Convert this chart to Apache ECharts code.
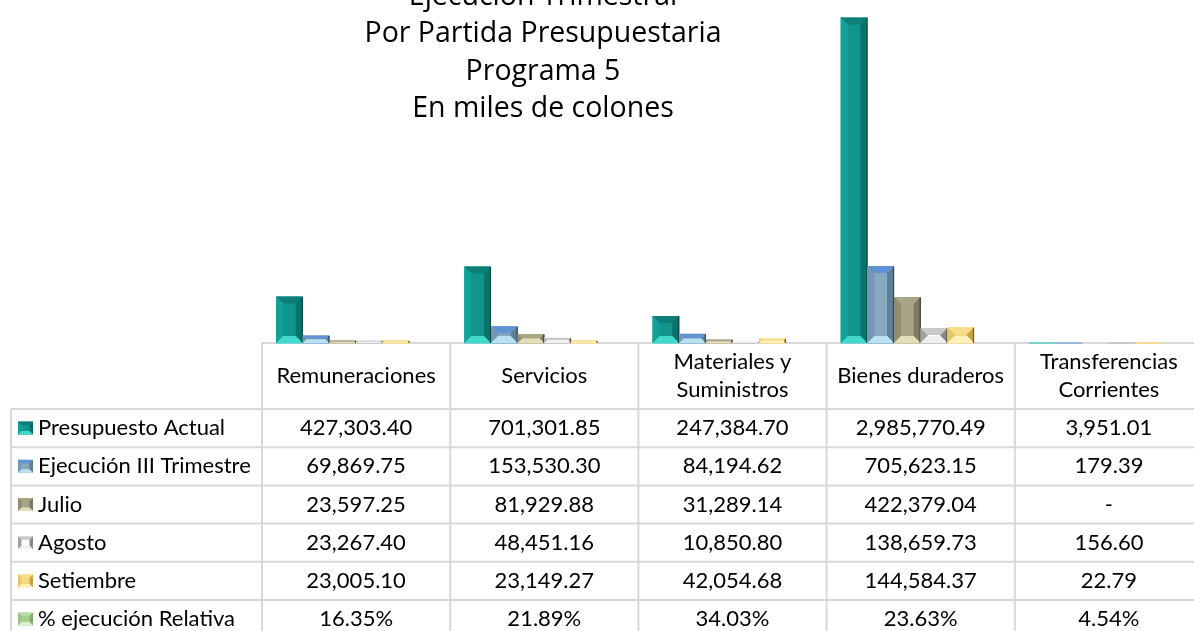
<!DOCTYPE html>
<html>
<head>
<meta charset="utf-8">
<script src="https://cdn.jsdelivr.net/npm/echarts@6/dist/echarts.min.js"></script>
<style>
html,body{margin:0;padding:0;background:#fff;overflow:hidden;}
#chart{width:1212px;height:631px;}
</style>
</head>
<body>
<div id="chart"></div>
<script>
// ---- data ----
const titleLines = ['Ejecución Trimestral', 'Por Partida Presupuestaria', 'Programa 5', 'En miles de colones'];
const categories = ['Remuneraciones', 'Servicios', 'Materiales y\nSuministros', 'Bienes duraderos', 'Transferencias\nCorrientes'];
const seriesNames = ['Presupuesto Actual', 'Ejecución III Trimestre', 'Julio', 'Agosto', 'Setiembre', '% ejecución Relativa'];
const presupuestoActual = [427303.40, 701301.85, 247384.70, 2985770.49, 3951.01];
const ejecucionIII = [69869.75, 153530.30, 84194.62, 705623.15, 179.39];
const julio = [23597.25, 81929.88, 31289.14, 422379.04, 0];
const agosto = [23267.40, 48451.16, 10850.80, 138659.73, 156.60];
const setiembre = [23005.10, 23149.27, 42054.68, 144584.37, 22.79];
const ejecucionRelativa = [16.35, 21.89, 34.03, 23.63, 4.54]; // percent

const seriesData = [presupuestoActual, ejecucionIII, julio, agosto, setiembre, ejecucionRelativa];

// ---- styles ----
const FONT = 'Lato';
// bevel palettes: top, left, center, right, bottom, outline, floor strip
const palettes = [
  {top: '#0d7e78', left: '#11a199', center: '#0f958e', right: '#0b716b', bottom: '#43d8ce', line: '#064d49', strip: '#7fd3cf'},
  {top: '#5f93d4', left: '#7596b4', center: '#86a9c0', right: '#5f7f96', bottom: '#b8e2f0', line: '#2a4a66', strip: '#9bb8dc'},
  {top: '#a9a587', left: '#908d72', center: '#a8a485', right: '#7a785f', bottom: '#e3ddba', line: '#3f3e30', strip: '#c9c6ae'},
  {top: '#c9c9c9', left: '#a2a2a2', center: '#ffffff', right: '#8a8a8a', bottom: '#f0f0f0', line: '#505050', strip: '#c8c8c8'},
  {top: '#f7dc8a', left: '#e8c562', center: '#f8da80', right: '#caa443', bottom: '#fff1bd', line: '#6e5a1e', strip: '#f2de9a'},
  {top: '#b9d9a2', left: '#9cc483', center: '#a9d08e', right: '#86ad6f', bottom: '#dff0d2', line: '#4f6e3e', strip: null}
];

function fmt(v, si) {
  if (si === 5) return v.toFixed(2) + '%';
  if (v === 0) return '-';
  return v.toLocaleString('en-US', {minimumFractionDigits: 2, maximumFractionDigits: 2});
}

const GROUP = 0.85; // share of the category occupied by the bar group
const NSER = seriesNames.length;

function bevelBar(si) {
  const p = palettes[si];
  return function (params, api) {
    const cat = api.value(0), val = api.value(1);
    const top = api.coord([cat, val]);
    const base = api.coord([cat, 0]);
    const catW = api.size([1, 0])[0];
    const bw = catW * GROUP / NSER;
    const x = top[0] - catW * GROUP / 2 + si * bw;
    const y = top[1];
    const h = base[1] - top[1];
    const children = [];
    if (val > 0 && p.strip) {
      children.push({type: 'rect', shape: {x: x, y: base[1] - 1, width: bw, height: 2}, style: {fill: p.strip}});
    }
    if (h >= 1) {
      const w = bw;
      const b = Math.min(7, w * 0.27, h / 2);
      const yb = y + h;
      children.push(
        {type: 'rect', shape: {x: x, y: y, width: w, height: h}, style: {fill: p.center}},
        {type: 'polygon', shape: {points: [[x, y], [x + w, y], [x + w - b, y + b], [x + b, y + b]]}, style: {fill: p.top}},
        {type: 'polygon', shape: {points: [[x, y], [x + b, y + b], [x + b, yb - b], [x, yb]]}, style: {fill: p.left}},
        {type: 'polygon', shape: {points: [[x + w, y], [x + w, yb], [x + w - b, yb - b], [x + w - b, y + b]]}, style: {fill: p.right}},
        {type: 'polygon', shape: {points: [[x, yb], [x + b, yb - b], [x + w - b, yb - b], [x + w, yb]]}, style: {fill: p.bottom}},
        {type: 'line', shape: {x1: x + w - 0.5, y1: y + 0.5, x2: x + w - 0.5, y2: yb}, style: {stroke: p.line, lineWidth: 1.2}}
      );
    }
    return {type: 'group', children: children};
  };
}

const chart = echarts.init(document.getElementById('chart'));
const option = {
  backgroundColor: '#fff',
  animation: false,
  title: {
    text: titleLines.join('\n'),
    left: 538, top: -27, textAlign: 'center',
    textStyle: {fontFamily: 'Open Sans', fontSize: 28.5, fontWeight: 'normal', color: '#000', lineHeight: 37.5}
  },
  grid: {left: 262, right: 9, top: 16, bottom: 288, containLabel: false},
  xAxis: {
    type: 'category', data: categories, boundaryGap: true,
    axisLine: {show: true, lineStyle: {color: '#d9d9d9', width: 2}},
    axisTick: {show: false},
    axisLabel: {interval: 0, margin: 33, verticalAlign: 'middle', fontFamily: FONT, fontSize: 22, lineHeight: 28, color: '#000'}
  },
  yAxis: {type: 'value', min: 0, max: 3000000, show: false, splitLine: {show: false}},
  series: seriesNames.map((n, i) => ({
    name: n, type: 'custom', renderItem: bevelBar(i),
    encode: {x: 0, y: 1},
    data: seriesData[i].map((v, k) => [k, v])
  }))
};
chart.setOption(option);

// ---- data table under the axis ----
function buildTable() {
  const c0 = chart.convertToPixel({xAxisIndex: 0}, 0);
  const c1 = chart.convertToPixel({xAxisIndex: 0}, 1);
  const cw = c1 - c0;
  const axisY = chart.convertToPixel({yAxisIndex: 0}, 0);
  const headerH = 66, rowH = 38.2, legendLeft = 11;
  const firstRowTop = axisY + headerH;
  const lineStyle = {stroke: '#d9d9d9', lineWidth: 2};
  const rightEdge = c0 - cw / 2 + cw * categories.length;
  const els = [];
  const nRows = seriesNames.length;
  const tableBottom = firstRowTop + rowH * nRows;
  for (let r = 0; r <= nRows; r++) {
    const y = firstRowTop + r * rowH;
    els.push({type: 'line', shape: {x1: legendLeft, y1: y, x2: rightEdge, y2: y}, style: lineStyle, silent: true, z: -1});
  }
  els.push({type: 'line', shape: {x1: legendLeft, y1: firstRowTop, x2: legendLeft, y2: tableBottom}, style: lineStyle, silent: true, z: -1});
  for (let k = 0; k <= categories.length; k++) {
    const x = c0 - cw / 2 + k * cw;
    els.push({type: 'line', shape: {x1: x, y1: axisY, x2: x, y2: tableBottom}, style: lineStyle, silent: true, z: -1});
  }
  for (let r = 0; r < nRows; r++) {
    const cy = firstRowTop + r * rowH + rowH / 2;
    const p = palettes[r];
    const ix = 18, iy = cy - 6.5, iw = 15, ih = 13, b = 3.5;
    els.push({type: 'group', silent: true, children: [
      {type: 'rect', shape: {x: ix, y: iy, width: iw, height: ih}, style: {fill: p.center}},
      {type: 'polygon', shape: {points: [[ix, iy], [ix + iw, iy], [ix + iw - b, iy + b], [ix + b, iy + b]]}, style: {fill: p.top}},
      {type: 'polygon', shape: {points: [[ix, iy], [ix + b, iy + b], [ix + b, iy + ih - b], [ix, iy + ih]]}, style: {fill: p.left}},
      {type: 'polygon', shape: {points: [[ix + iw, iy], [ix + iw, iy + ih], [ix + iw - b, iy + ih - b], [ix + iw - b, iy + b]]}, style: {fill: p.right}},
      {type: 'polygon', shape: {points: [[ix, iy + ih], [ix + b, iy + ih - b], [ix + iw - b, iy + ih - b], [ix + iw, iy + ih]]}, style: {fill: p.bottom}}
    ]});
    els.push({type: 'text', x: 38, y: cy, style: {text: seriesNames[r], fontFamily: FONT, fontSize: 22, fill: '#000', verticalAlign: 'middle', align: 'left'}, silent: true});
    for (let k = 0; k < categories.length; k++) {
      const x = chart.convertToPixel({xAxisIndex: 0}, k);
      els.push({type: 'text', x: x, y: cy, style: {text: fmt(seriesData[r][k], r), fontFamily: FONT, fontSize: 22, fill: '#000', verticalAlign: 'middle', align: 'center'}, silent: true});
    }
  }
  chart.setOption({graphic: {elements: els}});
}
buildTable();
</script>
</body>
</html>
